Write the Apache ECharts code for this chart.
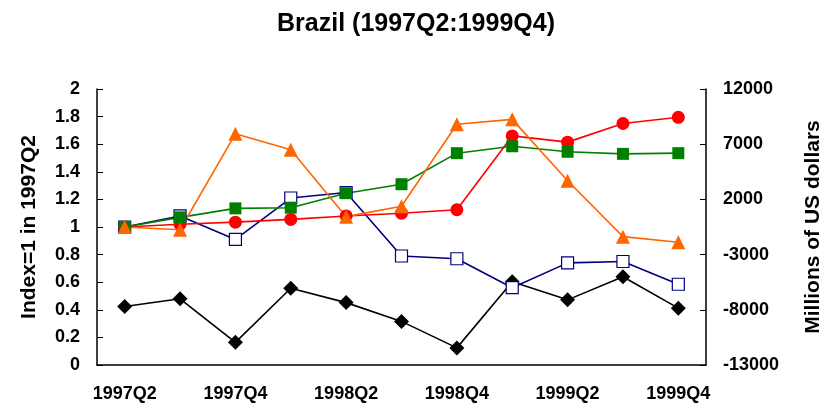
<!DOCTYPE html>
<html><head><meta charset="utf-8">
<script src="https://cdn.jsdelivr.net/npm/echarts@6/dist/echarts.min.js"></script>
<style>html,body{margin:0;padding:0;background:#fff}#c{width:832px;height:408px}</style>
</head><body><div id="c"></div>
<script>
const categories = ['1997Q2','1997Q3','1997Q4','1998Q1','1998Q2','1998Q3','1998Q4','1999Q1','1999Q2','1999Q3','1999Q4'];
const blackDiamond = [-7700, -7000, -10950, -6050, -7350, -9050, -11450, -5450, -7100, -5000, -7850];
const blueOpenSquare = [1.0, 1.08, 0.91, 1.21, 1.25, 0.79, 0.77, 0.56, 0.74, 0.75, 0.585];
const redCircle = [1.0, 1.02, 1.035, 1.055, 1.08, 1.10, 1.125, 1.66, 1.615, 1.75, 1.795];
const greenSquare = [1.0, 1.07, 1.135, 1.14, 1.245, 1.31, 1.535, 1.585, 1.545, 1.53, 1.535];
const orangeTriangle = [1.0, 0.98, 1.675, 1.56, 1.075, 1.15, 1.745, 1.78, 1.335, 0.93, 0.89];
const leftTicks = {min: 0, max: 2, interval: 0.2};
const rightTicks = {min: -13000, max: 12000, interval: 5000};

const font = 'Liberation Sans, Arial, sans-serif';
const chart = echarts.init(document.getElementById('c'), null, {renderer: 'canvas'});
const lbl = {color: '#000', fontWeight: 'bold', fontSize: 18, fontFamily: font};
const nameStyle = {fontSize: 21, fontWeight: 'bold', fontFamily: font, color: '#000'};
function ser(name, data, color, symbol, size, yIdx, extra) {
  return Object.assign({
    name, type: 'line', data, yAxisIndex: yIdx, symbol, symbolSize: size,
    lineStyle: {color, width: 1.6}, itemStyle: {color, borderWidth: 0},
    animation: false
  }, extra || {});
}
chart.setOption({
  backgroundColor: '#fff',
  animation: false,
  title: {text: 'Brazil (1997Q2:1999Q4)', left: 'center', top: 7,
    textStyle: {fontSize: 25, fontWeight: 'bold', fontFamily: font, color: '#000'}},
  grid: {left: 97, right: 122, top: 89, bottom: 43},
  xAxis: {type: 'category', data: categories, boundaryGap: true,
    axisLine: {lineStyle: {color: '#000', width: 1.5}},
    axisTick: {inside: true, length: 7, interval: 0, lineStyle: {color: '#000'}},
    axisLabel: Object.assign({interval: 1, margin: 20}, lbl),
    splitLine: {show: false}},
  yAxis: [
    {type: 'value', position: 'left', min: leftTicks.min, max: leftTicks.max, interval: leftTicks.interval,
      name: 'Index=1 in 1997Q2', nameLocation: 'middle', nameGap: 57, nameRotate: 90,
      nameTextStyle: nameStyle,
      axisLine: {show: true, lineStyle: {color: '#000', width: 1.5}},
      axisTick: {show: true, inside: true, length: 6, lineStyle: {color: '#000'}},
      axisLabel: Object.assign({margin: 17, formatter: v => String(Math.round(v * 10) / 10)}, lbl),
      splitLine: {show: false}},
    {type: 'value', position: 'right', min: rightTicks.min, max: rightTicks.max, interval: rightTicks.interval,
      name: 'Millions of US dollars', nameLocation: 'middle', nameGap: 97, nameRotate: 90,
      nameTextStyle: nameStyle,
      axisLine: {show: true, lineStyle: {color: '#000', width: 1.5}},
      axisTick: {show: true, inside: true, length: 6, lineStyle: {color: '#000'}},
      axisLabel: Object.assign({margin: 17, formatter: v => String(v)}, lbl),
      splitLine: {show: false}}
  ],
  series: [
    ser('Black', blackDiamond, '#000000', 'diamond', 15, 1),
    ser('Blue', blueOpenSquare, '#000080', 'rect', 12, 0,
      {itemStyle: {color: '#ffffff', borderColor: '#000080', borderWidth: 1.2}}),
    ser('Red', redCircle, '#ff0000', 'circle', 13, 0),
    ser('Green', greenSquare, '#008000', 'rect', 12, 0),
    ser('Orange', orangeTriangle, '#ff6600', 'triangle', 14, 0)
  ]
});
</script></body></html>
